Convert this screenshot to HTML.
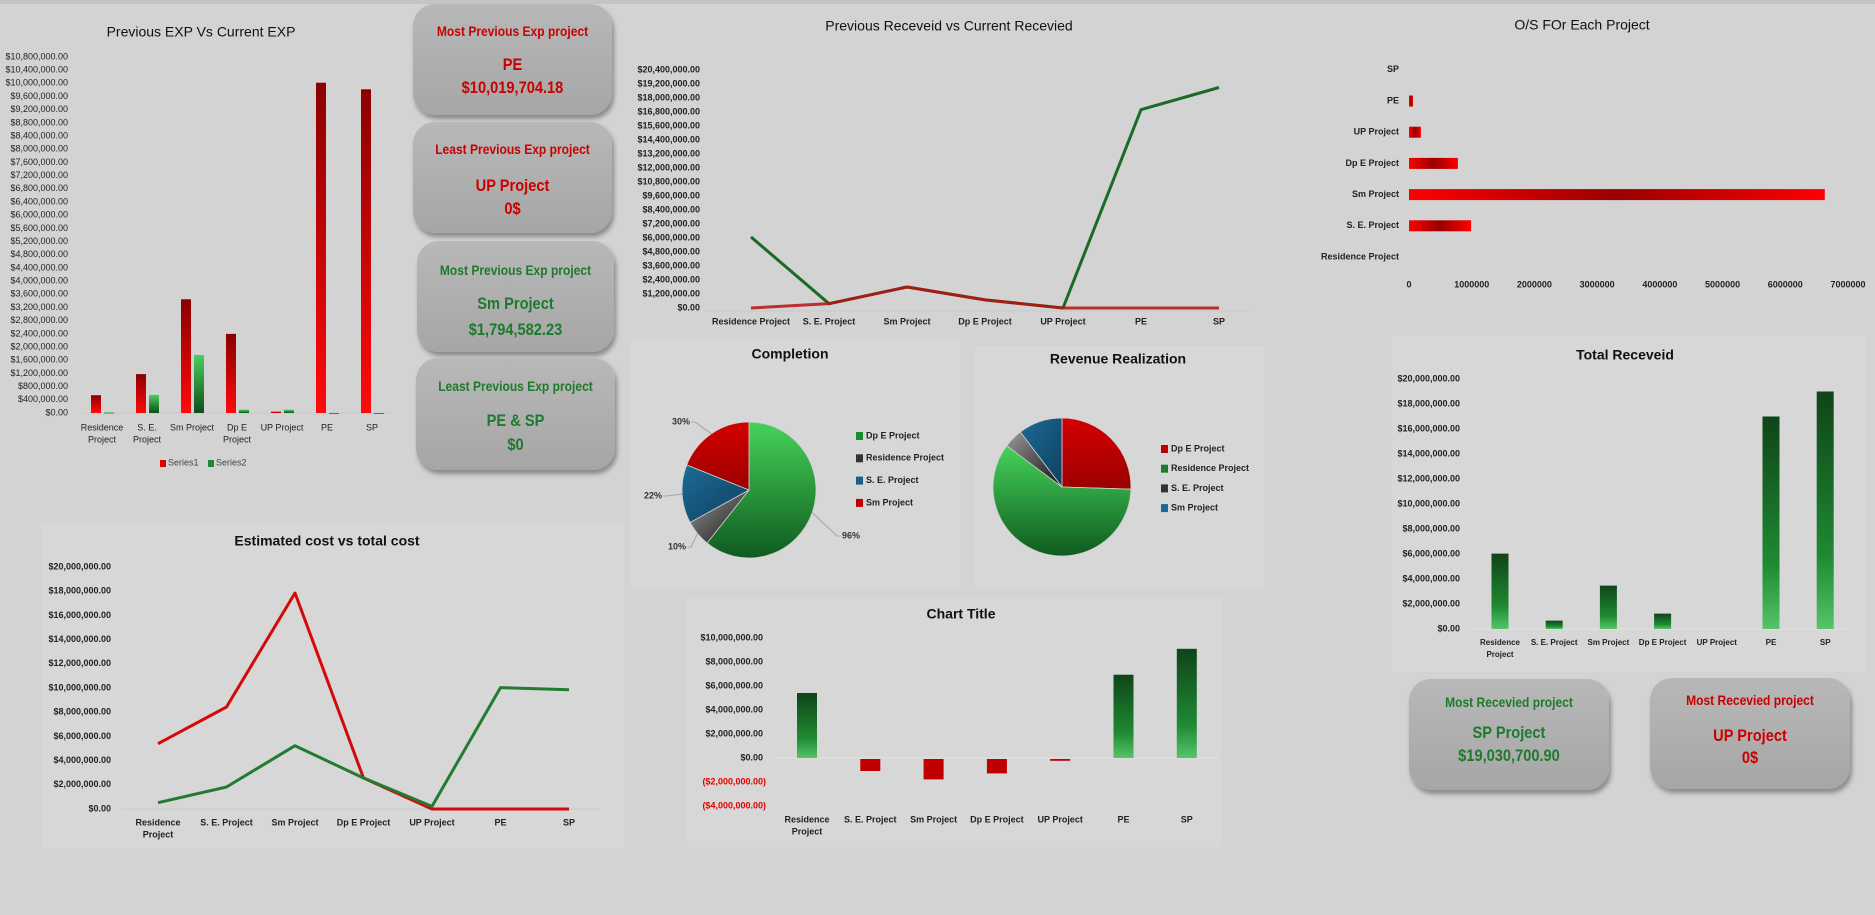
<!DOCTYPE html>
<html><head><meta charset="utf-8">
<style>
html,body{margin:0;padding:0;}
body{width:1875px;height:915px;position:relative;overflow:hidden;background:#d3d3d3;font-family:"Liberation Sans Narrow","Liberation Sans",sans-serif;}
#topband{position:absolute;left:0;top:0;width:1875px;height:4px;background:#c4c4c4;}
.panel{position:absolute;background:#d7d7d7;}
svg{position:absolute;left:0;top:0;}
.card{position:absolute;border-radius:22px;background:linear-gradient(#b8b8b8,#a6a6a6);box-shadow:2px 4px 5px rgba(0,0,0,.35);}
.card div{position:absolute;left:-20px;right:-20px;text-align:center;transform:translateY(-50%) scaleX(0.86);font-weight:bold;white-space:nowrap;}
.t{font-size:14px;}
.n{font-size:17px;}
.v{font-size:17px;}
.red{color:#c80000;}
.grn{color:#1d7a2c;}
</style></head>
<body>
<div id="topband"></div>
<div class="panel" style="left:41px;top:523px;width:583px;height:325px;"></div>
<div class="panel" style="left:687px;top:597px;width:534px;height:250px;"></div>
<div class="panel" style="left:1392px;top:335px;width:473px;height:337px;"></div>
<div class="panel" style="left:630px;top:340px;width:330px;height:248px;"></div>
<div class="panel" style="left:975px;top:346px;width:289px;height:242px;"></div>

<svg id="chart" width="1875" height="915">
<defs>
<linearGradient id="gRedV" x1="0" y1="0" x2="0" y2="1"><stop offset="0" stop-color="#8a0000"/><stop offset="1" stop-color="#ff0a0a"/></linearGradient>
<linearGradient id="gGrnV" x1="0" y1="0" x2="0" y2="1"><stop offset="0" stop-color="#4ccf5c"/><stop offset="1" stop-color="#0d4d1b"/></linearGradient>
<linearGradient id="gGrnBar" x1="0" y1="0" x2="0" y2="1"><stop offset="0" stop-color="#0f4419"/><stop offset="0.7" stop-color="#1f8a32"/><stop offset="1" stop-color="#55c46a"/></linearGradient>
<linearGradient id="gRedH" x1="0" y1="0" x2="1" y2="0"><stop offset="0" stop-color="#ff0000"/><stop offset="0.5" stop-color="#990000"/><stop offset="1" stop-color="#ff0000"/></linearGradient>
<linearGradient id="pGreen" x1="0" y1="0" x2="0" y2="1"><stop offset="0" stop-color="#46d35a"/><stop offset="1" stop-color="#0f5a1f"/></linearGradient>
<linearGradient id="pRed" x1="0" y1="0" x2="0" y2="1"><stop offset="0" stop-color="#d40000"/><stop offset="1" stop-color="#9a0000"/></linearGradient>
<linearGradient id="pBlue" x1="0" y1="0" x2="1" y2="1"><stop offset="0" stop-color="#1c6b96"/><stop offset="1" stop-color="#0f3f5e"/></linearGradient>
<linearGradient id="pBlack" x1="0" y1="0" x2="1" y2="1"><stop offset="0" stop-color="#9a9a9a"/><stop offset="1" stop-color="#111"/></linearGradient>
</defs>
</svg>

<div class="card" style="left:413px;top:4px;width:199px;height:111px;">
<div class="t red" style="top:27px">Most Previous Exp project</div>
<div class="n red" style="top:61px">PE</div>
<div class="v red" style="top:84px">$10,019,704.18</div></div>
<div class="card" style="left:413px;top:122px;width:199px;height:111px;">
<div class="t red" style="top:27px">Least Previous Exp project</div>
<div class="n red" style="top:64px">UP Project</div>
<div class="v red" style="top:87px">0$</div></div>
<div class="card" style="left:417px;top:241px;width:197px;height:111px;">
<div class="t grn" style="top:29px">Most Previous Exp project</div>
<div class="n grn" style="top:63px">Sm Project</div>
<div class="v grn" style="top:89px">$1,794,582.23</div></div>
<div class="card" style="left:416px;top:358px;width:199px;height:112px;">
<div class="t grn" style="top:28px">Least Previous Exp project</div>
<div class="n grn" style="top:63px">PE &amp; SP</div>
<div class="v grn" style="top:87px">$0</div></div>
<div class="card" style="left:1409px;top:679px;width:200px;height:111px;">
<div class="t grn" style="top:23px">Most Recevied project</div>
<div class="n grn" style="top:54px">SP Project</div>
<div class="v grn" style="top:77px">$19,030,700.90</div></div>
<div class="card" style="left:1650px;top:678px;width:200px;height:111px;">
<div class="t red" style="top:22px">Most Recevied project</div>
<div class="n red" style="top:58px">UP Project</div>
<div class="v red" style="top:80px">0$</div></div>

<script>
// ---- data ----
const cats = ['Residence Project','S. E. Project','Sm Project','Dp E Project','UP Project','PE','SP'];
const expPrev = [540000,1180000,3450000,2400000,40000,10019704,9820000];
const expCur = [20000,550000,1760000,100000,100000,0,0];
const expTicks = [0,400000,800000,1200000,1600000,2000000,2400000,2800000,3200000,3600000,4000000,4400000,4800000,5200000,5600000,6000000,6400000,6800000,7200000,7600000,8000000,8400000,8800000,9200000,9600000,10000000,10400000,10800000];
const recvPrev = [6090000,370000,1800000,700000,0,17000000,18900000];
const recvCur = [0,370000,1800000,700000,0,0,0];
const recvTicks = [0,1200000,2400000,3600000,4800000,6000000,7200000,8400000,9600000,10800000,12000000,13200000,14400000,15600000,16800000,18000000,19200000,20400000];
const osCats = ['Residence Project','S. E. Project','Sm Project','Dp E Project','UP Project','PE','SP'];
const osVals = [0,990000,6630000,780000,190000,64000,0];
const osTicks = [0,1000000,2000000,3000000,4000000,5000000,6000000,7000000];
const estCost = [5400000,8430000,17850000,2560000,0,0,0];
const totCost = [520000,1820000,5230000,2560000,220000,10030000,9860000];
const estTicks = [0,2000000,4000000,6000000,8000000,10000000,12000000,14000000,16000000,18000000,20000000];
const netVals = [5420000,-1000000,-1700000,-1200000,-150000,6940000,9100000];
const netTicks = [-4000000,-2000000,0,2000000,4000000,6000000,8000000,10000000];
const totRecv = [6030000,670000,3470000,1230000,0,17000000,19000000];
const totTicks = [0,2000000,4000000,6000000,8000000,10000000,12000000,14000000,16000000,18000000,20000000];
const compCats = ['Dp E Project','Residence Project','S. E. Project','Sm Project'];
const compVals = [96,10,22,30];
const compLabels = ['96%','10%','22%','30%'];
const revCats = ['Dp E Project','Residence Project','S. E. Project','Sm Project'];
const revVals = [25.5,59.7,4.5,10.3];

const NS='http://www.w3.org/2000/svg';
const svg=document.getElementById('chart');
function mk(tag,attrs,parent){const e=document.createElementNS(NS,tag);for(const k in attrs)e.setAttribute(k,attrs[k]);(parent||svg).appendChild(e);return e;}
function txt(x,y,s,size,anchor,weight,fill,parent){const t=mk('text',{x:x,y:y,'font-size':size,'text-anchor':anchor||'middle','font-weight':weight||'bold',fill:fill||'#111','dominant-baseline':'middle','font-family':'Liberation Sans Narrow, Liberation Sans, sans-serif'},parent);t.textContent=s;return t;}
function money(v){const s='$'+Math.abs(v).toLocaleString('en-US',{minimumFractionDigits:2,maximumFractionDigits:2});return v<0?'('+s+')':s;}
function lin(d0,d1,r0,r1){return v=>r0+(v-d0)/(d1-d0)*(r1-r0);}
function wrapName(n){return {'Residence Project':['Residence','Project'],'S. E. Project':['S. E.','Project'],'Dp E Project':['Dp E','Project']}[n]||[n];}

// ===== Chart 1: Previous EXP vs Current EXP =====
(function(){
  const g=mk('g',{});
  
  
  const y=lin(0,10800000,413,57);
  const x=i=>102+i*45;
  const t=txt(201,33,'Previous EXP Vs Current EXP',14,'middle','normal','#111',g);
  
  
  expTicks.forEach(v=>{const l=txt(68,y(v),money(v),9,'end','normal','#222',g);
    
    });
  const ax=mk('line',{x1:82,x2:392,y1:y(0),y2:y(0),stroke:'#c8c8c8'},g);
  
  
  cats.forEach((c,i)=>{
    const b1=mk('rect',{x:x(i)-11,y:y(expPrev[i]),width:10,height:y(0)-y(expPrev[i]),fill:'url(#gRedV)'},g);
    
    
    const b2=mk('rect',{x:x(i)+2,y:y(expCur[i]),width:10,height:Math.max(1,y(0)-y(expCur[i])),fill:'url(#gGrnV)'},g);
    
    
    wrapName(c).forEach((p,k)=>{const l=txt(x(i),428+k*12,p,9,'middle','normal','#222',g);
      
      });
  });
  const r1=mk('rect',{x:160,y:460,width:6,height:7,fill:'#e00000'},g);
  
  
  const l1=txt(168,463,'Series1',9,'start','normal','#444',g);
  
  
  const r2=mk('rect',{x:208,y:460,width:6,height:7,fill:'#1b8a2e'},g);
  
  
  const l2=txt(216,463,'Series2',9,'start','normal','#444',g);
  
  
})();

// ===== Chart 2: Previous Received vs Current Received =====
(function(){
  const g=mk('g',{});
  
  
  const y=lin(0,20400000,308,70);
  const x=i=>751+i*78;
  const t=txt(949,27,'Previous Receveid vs Current Recevied',14,'middle','normal','#111',g);
  
  
  recvTicks.forEach(v=>{const l=txt(700,y(v),money(v),9,'end','bold','#222',g);
    
    });
  const ax=mk('line',{x1:705,x2:1250,y1:y(0)+3,y2:y(0)+3,stroke:'#c8c8c8'},g);
  
  
  cats.forEach((c,i)=>{const l=txt(x(i),322,c,9,'middle','bold','#222',g);
    
    });
  const p1=mk('polyline',{points:recvPrev.map((v,i)=>x(i)+','+y(v)).join(' '),fill:'none',stroke:'#1a6b28','stroke-width':3,'stroke-linejoin':'round'},g);
  
  
  const p2=mk('polyline',{points:recvCur.map((v,i)=>x(i)+','+y(v)).join(' '),fill:'none',stroke:'#b81010','stroke-width':3,'stroke-linejoin':'round','stroke-opacity':0.85},g);
  
  
})();

// ===== Chart 3: O/S for each project =====
(function(){
  const g=mk('g',{});
  
  
  const x=lin(0,7000000,1409,1848);
  const y=i=>257-i*31.2;
  const t=txt(1582,26,'O/S FOr Each Project',14,'middle','normal','#111',g);
  
  
  osTicks.forEach(v=>{const l=txt(x(v),285,String(v),9,'middle','bold','#222',g);
    
    });
  osCats.forEach((c,i)=>{
    const l=txt(1399,y(i),c,9,'end','bold','#222',g);
    
    
    if(osVals[i]>0){
      const b=mk('rect',{x:x(0),y:y(i)-5.5,width:x(osVals[i])-x(0),height:11,fill:'url(#gRedH)'},g);
      
      
    }
  });
})();

// ===== Chart 4: Estimated cost vs total cost =====
(function(){
  const g=mk('g',{});
  
  
  const y=lin(0,20000000,809,567);
  const x=i=>158+i*68.5;
  const t=txt(327,542,'Estimated cost vs total cost',14,'middle','bold','#111',g);
  
  
  estTicks.forEach(v=>{const l=txt(111,y(v),money(v),9,'end','bold','#222',g);
    
    });
  const ax=mk('line',{x1:122,x2:600,y1:y(0),y2:y(0),stroke:'#c8c8c8'},g);
  
  
  cats.forEach((c,i)=>{
    const parts=c==='Residence Project'?['Residence','Project']:[c];
    parts.forEach((p,k)=>{const l=txt(x(i),823+k*12,p,9,'middle','bold','#222',g);
      
      });
  });
  const p1=mk('polyline',{points:estCost.map((v,i)=>x(i)+','+y(v)).join(' '),fill:'none',stroke:'#d40a0a','stroke-width':3,'stroke-linejoin':'round'},g);
  
  
  const p2=mk('polyline',{points:totCost.map((v,i)=>x(i)+','+y(v)).join(' '),fill:'none',stroke:'#237a31','stroke-width':3,'stroke-linejoin':'round'},g);
  
  
})();

// ===== Pies =====
function pie(name,title,tx,ty,cx,cy,rx,ry,vals,fills,legend,lx,ly,lstep,legFills){
  const g=mk('g',{});
  
  
  const t=txt(tx,ty,title,14,'middle','bold','#111',g);
  
  
  const tot=vals.reduce((a,b)=>a+b,0);
  let a0=0; const mids=[];
  vals.forEach((v,i)=>{
    const a1=a0+v/tot*2*Math.PI;
    const p=a=>[cx+rx*Math.sin(a),cy-ry*Math.cos(a)];
    const s=p(a0),e=p(a1);
    const large=(a1-a0)>Math.PI?1:0;
    const path=mk('path',{d:`M${cx},${cy} L${s[0]},${s[1]} A${rx},${ry} 0 ${large} 1 ${e[0]},${e[1]} Z`,fill:fills[i],stroke:'#d0d0d0','stroke-width':0.8},g);
    
    
    mids.push((a0+a1)/2);
    a0=a1;
  });
  legend.forEach((c,i)=>{
    const r=mk('rect',{x:lx,y:ly+i*lstep-4,width:7,height:8,fill:legFills[i]},g);
    
    
    const l=txt(lx+10,ly+i*lstep,c,9,'start','bold','#222',g);
    
    
  });
  return {g,mids};
}
(function(){
  const cx=749,cy=490,rx=67,ry=68;
  const r=pie('completion-pie','Completion',790,355,cx,cy,rx,ry,compVals,['url(#pGreen)','url(#pBlack)','url(#pBlue)','url(#pRed)'],compCats,856,436,22.3,['#1e8a30','#333','#1a5f85','#c00000']);
  const g=r.g;
  const labelPos=[[851,536],[677,547],[653,496],[681,422]];
  r.mids.forEach((a,i)=>{
    const px=cx+rx*Math.sin(a), py=cy-ry*Math.cos(a);
    const lp=labelPos[i];
    const ex=lp[0]+(px>cx?-14:14);
    const ln=mk('polyline',{points:`${px},${py} ${ex},${lp[1]} ${lp[0]+(px>cx?-10:10)},${lp[1]}`,fill:'none',stroke:'#999','stroke-width':0.8},g);
    
    
    const l=txt(lp[0],lp[1],compLabels[i],9,'middle','bold','#333',g);
    
    
  });
})();
pie('revenue-realization-pie','Revenue Realization',1118,360,1062,487,69,69,revVals,['url(#pRed)','url(#pGreen)','url(#pBlack)','url(#pBlue)'],revCats,1161,449,19.7,['#c00000','#1e7a2e','#333','#1a6a95']);

// ===== Chart 5: Chart Title (net) =====
(function(){
  const g=mk('g',{});
  
  
  const y=lin(0,10000000,758,638);
  const x=i=>807+i*63.3;
  const t=txt(961,615,'Chart Title',14,'middle','bold','#111',g);
  
  
  netTicks.forEach(v=>{const l=txt(v<0?766:763,y(v),money(v),9,'end','bold',v<0?'#e00000':'#222',g);
    
    });
  const ax=mk('line',{x1:775,x2:1218,y1:y(0),y2:y(0),stroke:'#e2e2e2'},g);
  
  
  cats.forEach((c,i)=>{
    const v=netVals[i];
    const b=mk('rect',{x:x(i)-10,y:v>=0?y(v):y(0)+1,width:20,height:Math.abs(y(v)-y(0)),fill:v>=0?'url(#gGrnBar)':'#c00000'},g);
    
    
    const parts=c==='Residence Project'?['Residence','Project']:[c];
    parts.forEach((p,k)=>{const l=txt(x(i),820+k*12,p,9,'middle','bold','#222',g);
      
      });
  });
})();

// ===== Chart 6: Total Received =====
(function(){
  const g=mk('g',{});
  
  
  const y=lin(0,20000000,629,379);
  const x=i=>1500+i*54.2;
  const t=txt(1625,356,'Total Receveid',14,'middle','bold','#111',g);
  
  
  totTicks.forEach(v=>{const l=txt(1460,y(v),money(v),9,'end','bold','#222',g);
    
    });
  const ax=mk('line',{x1:1470,x2:1850,y1:y(0),y2:y(0),stroke:'#e0e0e0'},g);
  
  
  cats.forEach((c,i)=>{
    const v=totRecv[i];
    if(v>0){const b=mk('rect',{x:x(i)-8.5,y:y(v),width:17,height:y(0)-y(v),fill:'url(#gGrnBar)'},g);
      
      }
    const parts=c==='Residence Project'?['Residence','Project']:[c];
    parts.forEach((p,k)=>{const l=txt(x(i),643+k*12,p,8,'middle','bold','#222',g);
      
      });
  });
})();
</script>
</body></html>
